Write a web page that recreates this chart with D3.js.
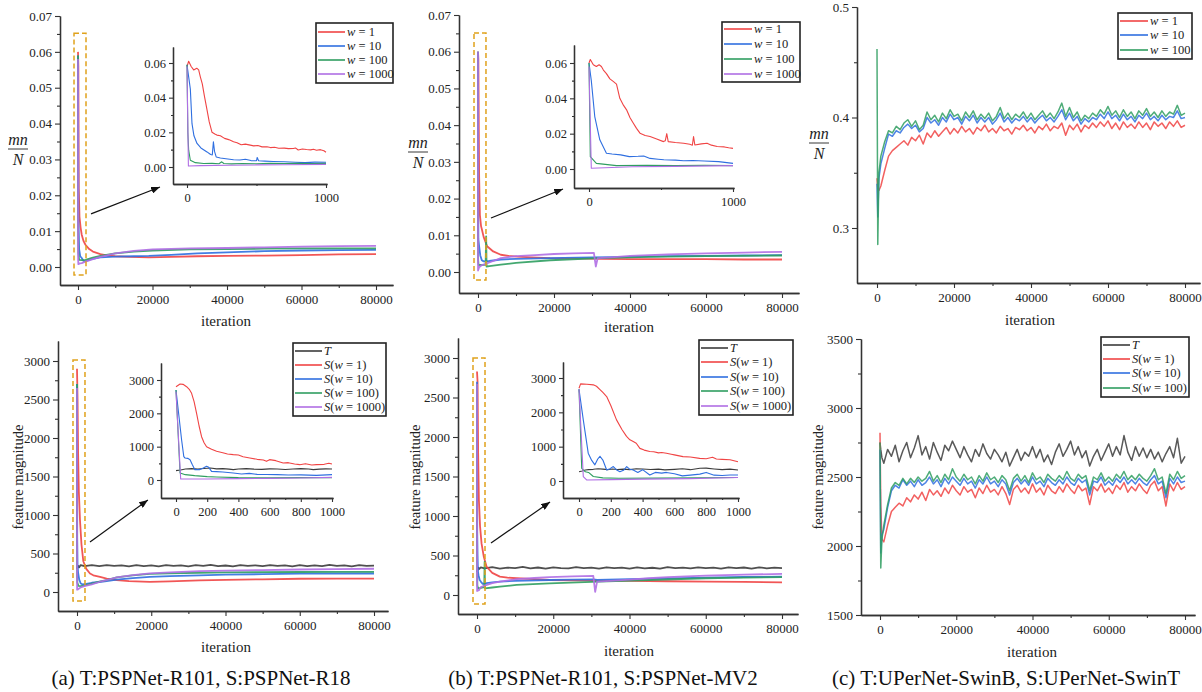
<!DOCTYPE html>
<html>
<head>
<meta charset="utf-8">
<script src="https://cdn.jsdelivr.net/npm/d3@7"></script>
<style>
  body { margin: 0; background: #fff; }
  svg text { font-family: "Liberation Serif", "Times New Roman", serif; }
</style>
</head>
<body>
<svg id="fig" width="1202" height="692"></svg>
<script>
// ---------------- data ----------------
// iterations on the x axis of panel (c)
const ITER_C = [0, 200, 500].concat(d3.range(1000, 80001, 1000))

// (a) top : mn/N, [iteration, value]
const TA_W1 = [[0,0.06],[100,0.056],[200,0.022],[400,0.014],[700,0.011],[1000,0.009],[1500,0.0072],[2000,0.0062],[3000,0.005],[4000,0.0043],[6000,0.0036],[8000,0.0032],[10000,0.003],[14000,0.0028],[19000,0.0027],[25000,0.0028],[32000,0.003],[40000,0.0031],[50000,0.0032],[60000,0.0033],[70000,0.0035],[80000,0.0036]]
const TA_W10 = [[0,0.059],[100,0.014],[300,0.005],[600,0.003],[1000,0.0025],[1500,0.0017],[2000,0.0016],[3000,0.002],[4000,0.0023],[6000,0.0027],[10000,0.0029],[15000,0.003],[19000,0.0031],[25000,0.0034],[32000,0.0038],[40000,0.0041],[50000,0.0044],[60000,0.0046],[70000,0.0047],[80000,0.0048]]
const TA_W100 = [[0,0.059],[50,0.01],[100,0.004],[300,0.002],[1000,0.0019],[2000,0.002],[4000,0.0026],[6000,0.0031],[10000,0.0038],[15000,0.0043],[20000,0.0046],[30000,0.0049],[40000,0.005],[50000,0.0051],[60000,0.0052],[70000,0.0052],[80000,0.0052]]
const TA_W1000 = [[0,0.058],[40,0.002],[100,0.0008],[500,0.001],[1000,0.0011],[2000,0.0015],[4000,0.0022],[6000,0.0028],[10000,0.0038],[15000,0.0045],[20000,0.0049],[30000,0.0052],[40000,0.0053],[50000,0.0055],[60000,0.0057],[70000,0.0058],[80000,0.0059]]
// (a) top inset, first 1000 iterations
const TA_IN_W1 = [[0,0.058],[12,0.061],[30,0.058],[48,0.056],[70,0.057],[84,0.056],[96,0.052],[110,0.048],[125,0.041],[144,0.033],[160,0.026],[180,0.02],[200,0.019],[215,0.0184],[240,0.018],[270,0.0165],[300,0.0158],[335,0.0146],[360,0.014],[390,0.0128],[420,0.0132],[455,0.0126],[480,0.0122],[510,0.0124],[540,0.0116],[575,0.0117],[600,0.0112],[630,0.0114],[660,0.0108],[700,0.0109],[730,0.0106],[765,0.0107],[780,0.011],[800,0.0098],[830,0.0104],[860,0.0101],[890,0.0099],[910,0.0102],[932,0.0097],[960,0.01],[985,0.0094],[1000,0.0085]]
const TA_IN_W10 = [[0,0.059],[12,0.052],[24,0.045],[36,0.025],[50,0.018],[72,0.0136],[100,0.011],[144,0.0087],[170,0.0072],[182,0.007],[190,0.0146],[198,0.009],[210,0.0058],[240,0.0052],[280,0.0048],[335,0.0042],[380,0.004],[420,0.0045],[460,0.0037],[500,0.0036],[505,0.0055],[515,0.0036],[560,0.0034],[620,0.0032],[700,0.003],[780,0.0027],[850,0.0025],[920,0.0028],[1000,0.0027]]
const TA_IN_W100 = [[0,0.059],[6,0.02],[12,0.0097],[24,0.0039],[60,0.0025],[120,0.002],[180,0.0021],[230,0.0019],[250,0.003],[265,0.002],[320,0.0018],[400,0.002],[500,0.0019],[600,0.0021],[700,0.002],[800,0.0021],[900,0.002],[1000,0.0021]]
const TA_IN_W1000 = [[0,0.058],[10,0.0006],[100,0.0008],[300,0.001],[500,0.0012],[700,0.0013],[1000,0.0015]]

// (b) top
const TB_W1 = [[0,0.06],[100,0.058],[300,0.026],[500,0.0155],[800,0.0125],[1000,0.0117],[1500,0.0095],[2400,0.007],[4000,0.0056],[6000,0.0047],[8000,0.0044],[10300,0.0042],[14000,0.004],[19000,0.0038],[25000,0.0037],[32000,0.0036],[40000,0.0035],[50000,0.0035],[60000,0.0035],[70000,0.0034],[80000,0.0034]]
const TB_W10 = [[0,0.06],[40,0.03],[100,0.009],[300,0.007],[600,0.0045],[1000,0.0032],[1500,0.0029],[3000,0.003],[6000,0.0034],[10000,0.0036],[19000,0.0038],[30000,0.004],[40000,0.0041],[50000,0.0043],[60000,0.0044],[70000,0.0045],[80000,0.0046]]
const TB_W100 = [[0,0.06],[10,0.007],[50,0.0032],[150,0.0019],[1000,0.0019],[2000,0.002],[2150,0.0097],[2250,0.0015],[3000,0.0016],[6000,0.002],[10000,0.0025],[19000,0.0032],[32000,0.0038],[45000,0.0041],[60000,0.0043],[80000,0.0045]]
const TB_W1000 = [[0,0.06],[15,0.0004],[300,0.0013],[1000,0.0019],[2000,0.0022],[4000,0.003],[6000,0.0038],[10000,0.0043],[15000,0.0046],[20000,0.0049],[25000,0.0051],[30500,0.0052],[31000,0.0015],[31500,0.0038],[35000,0.004],[40000,0.0044],[50000,0.0048],[60000,0.0051],[70000,0.0053],[80000,0.0055]]
const TB_IN_W1 = [[0,0.06],[9,0.062],[30,0.059],[51,0.058],[70,0.059],[86,0.058],[100,0.056],[121,0.054],[145,0.051],[168,0.0496],[191,0.048],[214,0.04],[240,0.036],[261,0.0335],[285,0.029],[307,0.026],[330,0.023],[354,0.0203],[390,0.019],[424,0.0184],[470,0.017],[517,0.0155],[530,0.016],[540,0.02],[550,0.0155],[600,0.015],[657,0.0146],[700,0.014],[718,0.0135],[726,0.0184],[735,0.0136],[780,0.0142],[820,0.0146],[850,0.0135],[890,0.0127],[940,0.0125],[970,0.012],[1000,0.0117]]
const TB_IN_W10 = [[0,0.06],[16,0.05],[40,0.0297],[75,0.0165],[121,0.0089],[160,0.0085],[220,0.008],[280,0.007],[341,0.0072],[380,0.0074],[424,0.006],[480,0.0055],[520,0.0052],[600,0.005],[657,0.0047],[720,0.0048],[800,0.0045],[900,0.0042],[1000,0.0032]]
const TB_IN_W100 = [[0,0.06],[9,0.007],[51,0.0032],[191,0.0019],[400,0.0021],[600,0.0019],[800,0.0021],[1000,0.0019]]
const TB_IN_W1000 = [[0,0.058],[16,0.0004],[300,0.0013],[600,0.0015],[1000,0.0019]]

// (c) top, one value per entry of ITER_C
const TC_W1 = [0.345, 0.336, 0.334,
  0.338, 0.352, 0.365, 0.37, 0.373, 0.376, 0.379, 0.375, 0.382, 0.379,
  0.384, 0.376, 0.386, 0.382, 0.388, 0.383, 0.387, 0.391, 0.385, 0.39,
  0.386, 0.392, 0.387, 0.39, 0.385, 0.391, 0.388, 0.393, 0.387, 0.39,
  0.386, 0.392, 0.388, 0.39, 0.385, 0.391, 0.389, 0.393, 0.388, 0.391,
  0.386, 0.392, 0.389, 0.394, 0.388, 0.392, 0.39, 0.395, 0.384, 0.393,
  0.389, 0.394, 0.387, 0.393, 0.39, 0.395, 0.391, 0.396, 0.392, 0.397,
  0.39, 0.395, 0.389, 0.396, 0.391, 0.394, 0.39, 0.396, 0.391, 0.395,
  0.389, 0.396, 0.392, 0.395, 0.39, 0.396, 0.392, 0.397, 0.391, 0.393]
const TC_W10 = [0.34, 0.31, 0.345,
  0.358, 0.372, 0.385, 0.383, 0.388, 0.386, 0.391, 0.394, 0.39, 0.393,
  0.387, 0.39, 0.4, 0.395, 0.398, 0.393, 0.4, 0.396, 0.403, 0.398,
  0.4, 0.394, 0.401, 0.397, 0.402, 0.395, 0.4, 0.396, 0.4, 0.394,
  0.398, 0.404, 0.396, 0.4, 0.395, 0.399, 0.397, 0.401, 0.396, 0.4,
  0.395, 0.399, 0.402, 0.397, 0.4, 0.396, 0.401, 0.407, 0.398, 0.404,
  0.397, 0.401, 0.394, 0.399, 0.396, 0.4, 0.398, 0.403, 0.399, 0.405,
  0.399, 0.402, 0.397, 0.403, 0.398, 0.401, 0.396, 0.402, 0.399, 0.404,
  0.398, 0.401, 0.397, 0.402, 0.398, 0.401, 0.4, 0.406, 0.399, 0.4]
const TC_W100 = [0.462, 0.285, 0.35,
  0.365, 0.378, 0.388, 0.386, 0.392, 0.389, 0.395, 0.398, 0.392, 0.397,
  0.389, 0.393, 0.405, 0.398, 0.402, 0.396, 0.404, 0.399, 0.407, 0.401,
  0.403, 0.397, 0.405, 0.4, 0.406, 0.398, 0.403, 0.399, 0.404, 0.397,
  0.401, 0.409, 0.399, 0.404, 0.398, 0.403, 0.4, 0.405, 0.399, 0.404,
  0.398, 0.402, 0.406, 0.4, 0.404, 0.399, 0.405, 0.413, 0.401, 0.409,
  0.4, 0.405, 0.397, 0.402, 0.399, 0.404, 0.401, 0.407, 0.403, 0.41,
  0.402, 0.406, 0.4, 0.407, 0.401, 0.405, 0.399, 0.406, 0.402, 0.408,
  0.401, 0.405, 0.4, 0.406, 0.401, 0.405, 0.403, 0.411, 0.402, 0.404]

// (a) bottom : feature magnitude
const BA_T = [[0,300],[300,340],[600,320],[1000,350],[2000,335],[4000,348],[6000,336],[8000,350],[10000,338],[12000,346],[14000,332],[16000,349],[18000,337],[20000,345],[22000,334],[24000,350],[26000,339],[28000,347],[30000,333],[32000,348],[34000,338],[36000,351],[38000,336],[40000,344],[42000,333],[44000,349],[46000,339],[48000,346],[50000,335],[52000,350],[54000,338],[56000,345],[58000,334],[60000,349],[62000,337],[64000,346],[66000,335],[68000,351],[70000,339],[72000,346],[74000,334],[76000,349],[78000,338],[80000,343]]
const BA_W1 = [[0,2900],[150,2500],[300,1800],[500,1300],[800,935],[1200,620],[1700,400],[2500,300],[3500,240],[4400,217],[6200,196],[8000,175],[10700,155],[14000,140],[19600,132],[25000,138],[33000,150],[40000,158],[50000,165],[60000,172],[70000,174],[80000,175]]
const BA_W10 = [[0,2700],[60,700],[150,350],[300,250],[600,160],[1000,110],[1500,100],[2500,105],[4000,120],[6000,130],[8000,140],[10700,160],[15000,180],[19600,196],[25000,205],[33000,217],[40000,225],[50000,232],[60000,238],[70000,240],[80000,240]]
const BA_W100 = [[0,2700],[30,200],[100,120],[400,80],[1000,75],[2000,85],[4000,110],[6000,135],[8000,155],[10700,190],[15000,215],[19600,235],[25000,243],[33000,250],[40000,255],[50000,258],[60000,260],[70000,261],[80000,262]]
const BA_W1000 = [[0,2650],[30,30],[300,35],[1000,60],[2000,75],[4000,100],[6000,130],[8000,155],[10700,190],[15000,220],[19600,242],[25000,255],[33000,270],[40000,278],[50000,285],[60000,292],[70000,298],[80000,302]]
const BA_IN_T = [[0,280],[30,300],[60,330],[100,340],[140,330],[180,345],[220,360],[260,335],[300,340],[340,325],[367,310],[400,330],[450,340],[500,325],[550,320],[600,335],[650,330],[700,315],[750,330],[800,340],[850,330],[880,310],[920,325],[960,335],[1000,330]]
const BA_IN_W1 = [[0,2800],[26,2880],[45,2870],[68,2800],[85,2720],[100,2600],[116,2350],[132,2000],[148,1620],[164,1300],[180,1120],[196,1000],[228,920],[260,860],[300,820],[330,780],[367,760],[400,750],[430,700],[473,660],[520,620],[560,600],[580,560],[600,610],[640,580],[687,510],[720,520],[760,480],[793,460],[830,490],[870,450],[900,460],[950,470],[980,500],[1000,480]]
const BA_IN_W10 = [[0,2700],[36,1200],[50,700],[58,660],[75,650],[90,610],[105,460],[121,310],[150,310],[175,360],[196,410],[210,380],[228,260],[260,250],[300,240],[367,210],[420,180],[470,200],[520,170],[580,165],[650,160],[720,150],[800,155],[900,140],[1000,160]]
const BA_IN_W100 = [[0,2700],[26,210],[60,160],[120,130],[200,100],[260,90],[400,70],[600,65],[800,70],[1000,70]]
const BA_IN_W1000 = [[0,2650],[30,30],[200,30],[400,40],[600,50],[800,60],[1000,80]]

// (b) bottom
const BB_T = [[0,290],[300,345],[600,330],[1000,350],[2000,338],[4000,352],[6000,335],[8000,347],[10000,340],[12000,355],[14000,337],[16000,348],[18000,333],[20000,350],[22000,341],[24000,336],[26000,352],[28000,339],[30000,346],[32000,334],[34000,351],[36000,340],[38000,347],[40000,335],[42000,350],[44000,338],[46000,345],[48000,333],[50000,352],[52000,340],[54000,347],[56000,336],[58000,350],[60000,339],[62000,346],[64000,334],[66000,351],[68000,340],[70000,348],[72000,335],[74000,350],[76000,338],[78000,346],[80000,340]]
const BB_W1 = [[0,2830],[150,2700],[300,1800],[500,1200],[800,869],[1200,650],[1800,480],[2500,360],[4000,280],[6000,233],[8000,220],[10400,212],[15000,200],[19000,190],[25000,186],[32000,182],[40000,178],[50000,174],[60000,170],[70000,165],[80000,161]]
const BB_W10 = [[0,2700],[60,800],[150,500],[250,300],[400,250],[700,190],[1000,170],[1500,140],[2500,150],[4000,160],[6000,170],[10000,180],[19000,190],[25000,195],[30500,199],[31500,190],[40000,200],[50000,210],[60000,220],[70000,228],[80000,233]]
const BB_W100 = [[0,2670],[20,350],[100,120],[300,80],[1000,90],[1900,100],[2000,420],[2100,85],[4000,95],[6000,106],[10400,127],[19000,148],[32000,170],[45000,190],[60000,212],[70000,220],[80000,225]]
const BB_W1000 = [[0,2670],[30,50],[500,60],[1000,100],[2000,120],[4000,150],[6000,170],[10400,200],[15000,215],[19000,225],[25000,235],[30500,242],[31000,40],[31500,170],[35000,180],[40000,195],[45000,212],[50000,225],[60000,245],[70000,258],[80000,267]]
const BB_IN_T = [[0,270],[20,290],[40,320],[60,330],[90,340],[120,355],[150,345],[180,330],[210,350],[240,335],[280,345],[320,330],[360,355],[400,350],[450,335],[500,345],[540,325],[600,340],[650,355],[700,330],[760,370],[800,375],[850,350],[900,330],[950,345],[1000,320]]
const BB_IN_W1 = [[0,2700],[10,2830],[50,2820],[90,2800],[110,2760],[132,2660],[150,2580],[174,2460],[200,2200],[236,1780],[270,1500],[299,1300],[320,1200],[341,1150],[360,1100],[383,950],[410,900],[445,860],[470,850],[500,820],[520,830],[550,810],[580,780],[600,760],[654,710],[700,700],[759,660],[800,650],[840,690],[864,640],[900,630],[950,620],[1000,560]]
const BB_IN_W10 = [[0,2670],[27,1780],[58,810],[80,600],[100,470],[118,640],[132,720],[150,610],[174,320],[195,360],[216,420],[235,330],[257,270],[280,310],[300,420],[320,340],[341,320],[370,250],[400,330],[445,175],[480,250],[520,230],[550,250],[600,210],[650,150],[700,170],[760,200],[800,250],[850,170],[900,160],[950,175],[1000,175]]
const BB_IN_W100 = [[0,2670],[17,370],[40,270],[60,250],[90,130],[150,90],[250,80],[500,85],[750,95],[1000,100]]
const BB_IN_W1000 = [[0,2670],[27,130],[48,30],[200,40],[400,55],[700,70],[1000,100]]

// (c) bottom, one value per entry of ITER_C
const BC_T = [2750, 2700, 2640,
  2600, 2700, 2650, 2730, 2610, 2690, 2750, 2640, 2710, 2800,
  2660, 2720, 2630, 2750, 2680, 2620, 2730, 2690, 2760, 2700,
  2640, 2720, 2660, 2610, 2700, 2650, 2740, 2670, 2630, 2700,
  2660, 2610, 2680, 2580, 2640, 2700, 2620, 2680, 2650, 2720,
  2640, 2700, 2610, 2660, 2590, 2680, 2740, 2650, 2700, 2760,
  2660, 2720, 2640, 2690, 2580, 2650, 2700, 2620, 2680, 2740,
  2650, 2720, 2660, 2800, 2680, 2620, 2720, 2650, 2710, 2640,
  2700, 2630, 2680, 2610, 2670, 2720, 2640, 2780, 2600, 2650]
const BC_W1 = [2820, 2300, 2050,
  2030, 2150, 2250, 2280, 2310, 2290, 2350, 2320, 2370, 2340,
  2390, 2330, 2410, 2370, 2400, 2360, 2420, 2380, 2440, 2400,
  2370, 2430, 2390, 2410, 2350, 2420, 2380, 2440, 2390, 2410,
  2370, 2430, 2380, 2300, 2410, 2440, 2390, 2420, 2380, 2450,
  2390, 2420, 2370, 2440, 2400, 2380, 2430, 2390, 2450, 2410,
  2380, 2440, 2400, 2420, 2300, 2430, 2400, 2450, 2390, 2420,
  2380, 2440, 2410, 2460, 2390, 2430, 2400, 2450, 2410, 2380,
  2440, 2470, 2400, 2430, 2290, 2450, 2400, 2460, 2410, 2430]
const BC_W10 = [2700, 1950, 2080,
  2120, 2280, 2400, 2440, 2420, 2480, 2440, 2470, 2430, 2480,
  2440, 2460, 2500, 2450, 2480, 2430, 2490, 2450, 2500, 2470,
  2440, 2490, 2450, 2470, 2420, 2480, 2450, 2500, 2450, 2470,
  2430, 2480, 2450, 2370, 2460, 2490, 2450, 2480, 2440, 2500,
  2450, 2470, 2430, 2490, 2460, 2440, 2480, 2450, 2500, 2460,
  2440, 2490, 2460, 2480, 2370, 2470, 2460, 2500, 2440, 2470,
  2440, 2490, 2460, 2500, 2450, 2480, 2450, 2490, 2460, 2440,
  2480, 2510, 2450, 2470, 2350, 2490, 2450, 2500, 2460, 2470]
const BC_W100 = [2750, 1840, 2050,
  2150, 2300, 2420, 2460, 2440, 2490, 2450, 2490, 2460, 2500,
  2470, 2490, 2540, 2470, 2510, 2460, 2520, 2480, 2560, 2500,
  2470, 2520, 2480, 2500, 2450, 2510, 2470, 2530, 2480, 2500,
  2460, 2510, 2480, 2400, 2490, 2520, 2470, 2510, 2460, 2530,
  2480, 2500, 2460, 2520, 2490, 2470, 2510, 2480, 2540, 2490,
  2470, 2520, 2490, 2510, 2400, 2500, 2480, 2530, 2470, 2500,
  2470, 2520, 2490, 2540, 2480, 2510, 2480, 2520, 2490, 2470,
  2510, 2560, 2480, 2500, 2380, 2520, 2480, 2540, 2490, 2510]

// zoom box and arrow of the insets, in data units
const ZOOM_TOP_A = { x: [-1070, 2150], y: [-0.0022, 0.0652], from: [3490, 0.0148], to: [22000, 0.0223] }
const ZOOM_TOP_B = { x: [-1050, 2100], y: [-0.0022, 0.0651], from: [3420, 0.0147], to: [22370, 0.0226] }
const ZOOM_BOT_A = { x: [-1080, 2150], y: [-117, 3013], from: [3500, 649], to: [19100, 1195] }
const ZOOM_BOT_B = { x: [-1050, 2100], y: [-114, 3000], from: [3670, 658], to: [19150, 1177] }

const X_MAJOR = [0, 20000, 40000, 60000, 80000]
const X_MINOR = [10000, 30000, 50000, 70000]
const CAPTIONS = ["(a) T:PSPNet-R101, S:PSPNet-R18", "(b) T:PSPNet-R101, S:PSPNet-MV2", "(c) T:UPerNet-SwinB, S:UPerNet-SwinT"]

const COL = { w1: "#f04444", w10: "#2f6fe0", w100: "#2f9e60", w1000: "#b06ee4", T: "#3c3c3c" }

// ---------------- drawing ----------------
const svg = d3.select("#fig")
const FONT = '"Liberation Serif", "Times New Roman", serif'

svg.append("defs").append("marker")
  .attr("id", "arrow")
  .attr("viewBox", "0 -4 10 8")
  .attr("refX", 10)
  .attr("refY", 0)
  .attr("markerUnits", "userSpaceOnUse")
  .attr("markerWidth", 9)
  .attr("markerHeight", 7)
  .attr("orient", "auto")
  .append("path")
  .attr("d", "M0,-4L10,0L0,4Z")
  .attr("fill", "#111")

const cSeries = vals => ITER_C.map((it, i) => [it, vals[i]])
const wLabel = n => [["w", true], [" = " + n, false]]
const sLabel = n => [["S", true], ["(", false], ["w", true], [" = " + n + ")", false]]

function styleAxis(sel, size) {
  // d3 puts its own font attrs on the group it is called on
  sel.selectAll("g").attr("font-family", FONT).attr("font-size", size)
  sel.selectAll("path.domain").attr("stroke", "#333").attr("stroke-width", 1.3)
  sel.selectAll(".tick line").attr("stroke", "#333").attr("stroke-width", 1.1)
  sel.selectAll(".tick text").attr("fill", "#222")
}

// xd/xr and yd/yr: two values with their pixel place, left/right/top/bottom: ends of the axis lines
function axes(g, o) {
  const x = d3.scaleLinear().domain(o.xd).range(o.xr)
  const y = d3.scaleLinear().domain(o.yd).range(o.yr)
  const xa = x.copy().domain([x.invert(o.left), x.invert(o.right)]).range([o.left, o.right])
  const ya = y.copy().domain([y.invert(o.bottom), y.invert(o.top)]).range([o.bottom, o.top])
  const big = o.inset ? 4 : 5, small = o.inset ? 2 : 3
  const fs = o.inset ? 12.5 : 13

  const bx = g.append("g").attr("transform", `translate(0,${o.bottom})`)
  bx.append("g").call(d3.axisBottom(xa).tickValues(o.xMinor).tickSize(small).tickSizeOuter(0).tickFormat(""))
  bx.append("g").call(d3.axisBottom(xa).tickValues(o.xMajor).tickSize(big).tickSizeOuter(0).tickPadding(5).tickFormat(d3.format("d")))
  styleAxis(bx, fs)

  const ly = g.append("g").attr("transform", `translate(${o.left},0)`)
  ly.append("g").call(d3.axisLeft(ya).tickValues(o.yMinor).tickSize(small).tickSizeOuter(0).tickFormat(""))
  ly.append("g").call(d3.axisLeft(ya).tickValues(o.yMajor).tickSize(big).tickSizeOuter(0).tickPadding(3).tickFormat(d3.format(o.yFmt)))
  styleAxis(ly, fs)
  return { x, y }
}

function lines(g, sc, list, width, opacity) {
  const line = d3.line().x(d => sc.x(d[0])).y(d => sc.y(d[1]))
  list.forEach(s => {
    g.append("path")
      .attr("d", line(s[0]))
      .attr("fill", "none")
      .attr("stroke", s[1])
      .attr("stroke-width", width)
      .attr("stroke-opacity", opacity)
      .attr("stroke-linejoin", "round")
  })
}

function legend(g, o, items) {
  g.append("rect")
    .attr("x", o.x0).attr("y", o.y0)
    .attr("width", o.x1 - o.x0).attr("height", o.y1 - o.y0)
    .attr("fill", "#fff").attr("stroke", "#222").attr("stroke-width", 1.6)
  items.forEach((it, i) => {
    const yy = o.rows[i]
    g.append("line")
      .attr("x1", o.x0 + 2).attr("x2", o.lx).attr("y1", yy).attr("y2", yy)
      .attr("stroke", it[0]).attr("stroke-width", 1.6)
    const t = g.append("text")
      .attr("x", o.lx + 2).attr("y", yy + 4)
      .attr("font-size", 12.5).attr("fill", "#222")
    it[1].forEach(p => {
      t.append("tspan").text(p[0]).attr("font-style", p[1] ? "italic" : "normal")
    })
  })
}

function zoomMark(g, sc, z) {
  const x0 = sc.x(z.x[0]), x1 = sc.x(z.x[1])
  const y0 = sc.y(z.y[1]), y1 = sc.y(z.y[0])
  g.append("rect")
    .attr("x", x0).attr("y", y0).attr("width", x1 - x0).attr("height", y1 - y0)
    .attr("fill", "none").attr("stroke", "#e0a21c").attr("stroke-width", 1.5)
    .attr("stroke-dasharray", "5,3")
  g.append("line")
    .attr("x1", sc.x(z.from[0])).attr("y1", sc.y(z.from[1]))
    .attr("x2", sc.x(z.to[0])).attr("y2", sc.y(z.to[1]))
    .attr("stroke", "#111").attr("stroke-width", 1.2)
    .attr("marker-end", "url(#arrow)")
}

function fracLabel(cx, barY) {
  const g = svg.append("g").attr("font-style", "italic").attr("font-size", 16).attr("fill", "#222")
  g.append("text").attr("x", cx).attr("y", barY - 4).attr("text-anchor", "middle").text("mn")
  g.append("line").attr("x1", cx - 10).attr("x2", cx + 10).attr("y1", barY).attr("y2", barY)
    .attr("stroke", "#222").attr("stroke-width", 0.9)
  g.append("text").attr("x", cx).attr("y", barY + 16).attr("text-anchor", "middle").text("N")
}

function rotLabel(x, y, txt) {
  svg.append("text")
    .attr("transform", `translate(${x},${y}) rotate(-90)`)
    .attr("text-anchor", "middle").attr("font-size", 14.5).attr("fill", "#222")
    .text(txt)
}

function xLabel(x, y) {
  svg.append("text").attr("x", x).attr("y", y).attr("text-anchor", "middle")
    .attr("font-size", 15).attr("fill", "#222").text("iteration")
}

const Y_MN = { yMajor: [0, 0.01, 0.02, 0.03, 0.04, 0.05, 0.06, 0.07], yMinor: [0.005, 0.015, 0.025, 0.035, 0.045, 0.055, 0.065], yFmt: ".2f" }
const Y_FM = { yMajor: [0, 500, 1000, 1500, 2000, 2500, 3000], yMinor: [250, 750, 1250, 1750, 2250, 2750], yFmt: "d" }
const IN_MN = { xMajor: [0, 1000], xMinor: [500], yMajor: [0, 0.02, 0.04, 0.06], yMinor: [0.01, 0.03, 0.05], yFmt: ".2f", inset: true }
const IN_FM = { xMajor: [0, 200, 400, 600, 800, 1000], xMinor: [100, 300, 500, 700, 900], yMajor: [0, 1000, 2000, 3000], yMinor: [500, 1500, 2500], yFmt: "d", inset: true }

// ----- (a) top -----
{
  const g = svg.append("g")
  const sc = axes(g, Object.assign({ xd: [0, 80000], xr: [78, 376], yd: [0, 0.07], yr: [267, 16], left: 60, right: 393, top: 16, bottom: 285, xMajor: X_MAJOR, xMinor: X_MINOR }, Y_MN))
  lines(g, sc, [[TA_W1, COL.w1], [TA_W10, COL.w10], [TA_W100, COL.w100], [TA_W1000, COL.w1000]], 1.8, 0.9)
  zoomMark(g, sc, ZOOM_TOP_A)
  const si = axes(g, Object.assign({ xd: [0, 1000], xr: [187, 326], yd: [0, 0.06], yr: [167, 63], left: 173, right: 327, top: 47, bottom: 184 }, IN_MN))
  lines(g, si, [[TA_IN_W1, COL.w1], [TA_IN_W10, COL.w10], [TA_IN_W100, COL.w100], [TA_IN_W1000, COL.w1000]], 1.1, 1)
  legend(g, { x0: 316, x1: 393, y0: 23, y1: 83, lx: 345, rows: [32, 46, 60, 74] },
    [[COL.w1, wLabel(1)], [COL.w10, wLabel(10)], [COL.w100, wLabel(100)], [COL.w1000, wLabel(1000)]])
  fracLabel(18, 149)
  xLabel(226, 326)
}

// ----- (b) top -----
{
  const g = svg.append("g")
  const sc = axes(g, Object.assign({ xd: [0, 80000], xr: [478, 782], yd: [0, 0.07], yr: [272, 15], left: 459, right: 799, top: 15, bottom: 293, xMajor: X_MAJOR, xMinor: X_MINOR }, Y_MN))
  lines(g, sc, [[TB_W1, COL.w1], [TB_W10, COL.w10], [TB_W100, COL.w100], [TB_W1000, COL.w1000]], 1.8, 0.9)
  zoomMark(g, sc, ZOOM_TOP_B)
  const si = axes(g, Object.assign({ xd: [0, 1000], xr: [589, 733], yd: [0, 0.06], yr: [169, 63], left: 574, right: 734, top: 45, bottom: 188 }, IN_MN))
  lines(g, si, [[TB_IN_W1, COL.w1], [TB_IN_W10, COL.w10], [TB_IN_W100, COL.w100], [TB_IN_W1000, COL.w1000]], 1.1, 1)
  legend(g, { x0: 722, x1: 800, y0: 22, y1: 82, lx: 752, rows: [29, 44, 59, 74] },
    [[COL.w1, wLabel(1)], [COL.w10, wLabel(10)], [COL.w100, wLabel(100)], [COL.w1000, wLabel(1000)]])
  fracLabel(418, 152)
  xLabel(629, 332)
}

// ----- (c) top -----
{
  const g = svg.append("g")
  const sc = axes(g, { xd: [0, 80000], xr: [877, 1185], yd: [0.3, 0.5], yr: [228, 7], left: 857, right: 1200, top: 7, bottom: 283, xMajor: X_MAJOR, xMinor: X_MINOR, yMajor: [0.3, 0.4, 0.5], yMinor: [0.35, 0.45], yFmt: ".1f" })
  lines(g, sc, [[cSeries(TC_W1), COL.w1], [cSeries(TC_W10), COL.w10], [cSeries(TC_W100), COL.w100]], 1.5, 0.85)
  legend(g, { x0: 1118, x1: 1192, y0: 13, y1: 59, lx: 1148, rows: [21, 35, 50] },
    [[COL.w1, wLabel(1)], [COL.w10, wLabel(10)], [COL.w100, wLabel(100)]])
  fracLabel(819, 143)
  xLabel(1030, 325)
}

// ----- (a) bottom -----
{
  const g = svg.append("g")
  const sc = axes(g, Object.assign({ xd: [0, 80000], xr: [77, 374], yd: [0, 3000], yr: [592, 361], left: 58, right: 388, top: 341, bottom: 611, xMajor: X_MAJOR, xMinor: X_MINOR }, Y_FM))
  lines(g, sc, [[BA_T, COL.T], [BA_W1, COL.w1], [BA_W10, COL.w10], [BA_W100, COL.w100], [BA_W1000, COL.w1000]], 1.8, 0.9)
  zoomMark(g, sc, ZOOM_BOT_A)
  const si = axes(g, Object.assign({ xd: [0, 1000], xr: [176, 332], yd: [0, 3000], yr: [480, 380], left: 161, right: 333, top: 363, bottom: 498 }, IN_FM))
  lines(g, si, [[BA_IN_T, COL.T], [BA_IN_W1, COL.w1], [BA_IN_W10, COL.w10], [BA_IN_W100, COL.w100], [BA_IN_W1000, COL.w1000]], 1.1, 1)
  legend(g, { x0: 293, x1: 386, y0: 343, y1: 416, lx: 322, rows: [351, 365, 379, 393, 407] },
    [[COL.T, [["T", true]]], [COL.w1, sLabel(1)], [COL.w10, sLabel(10)], [COL.w100, sLabel(100)], [COL.w1000, sLabel(1000)]])
  rotLabel(23, 477, "feature magnitude")
  xLabel(226, 652)
}

// ----- (b) bottom -----
{
  const g = svg.append("g")
  const sc = axes(g, Object.assign({ xd: [0, 80000], xr: [477, 782], yd: [0, 3000], yr: [595, 358], left: 458, right: 798, top: 338, bottom: 614, xMajor: X_MAJOR, xMinor: X_MINOR }, Y_FM))
  lines(g, sc, [[BB_T, COL.T], [BB_W1, COL.w1], [BB_W10, COL.w10], [BB_W100, COL.w100], [BB_W1000, COL.w1000]], 1.8, 0.9)
  zoomMark(g, sc, ZOOM_BOT_B)
  const si = axes(g, Object.assign({ xd: [0, 1000], xr: [579, 738], yd: [0, 3000], yr: [481, 378], left: 563, right: 739, top: 362, bottom: 498 }, IN_FM))
  lines(g, si, [[BB_IN_T, COL.T], [BB_IN_W1, COL.w1], [BB_IN_W10, COL.w10], [BB_IN_W100, COL.w100], [BB_IN_W1000, COL.w1000]], 1.1, 1)
  legend(g, { x0: 699, x1: 793, y0: 340, y1: 415, lx: 728, rows: [348, 362, 377, 391, 406] },
    [[COL.T, [["T", true]]], [COL.w1, sLabel(1)], [COL.w10, sLabel(10)], [COL.w100, sLabel(100)], [COL.w1000, sLabel(1000)]])
  rotLabel(420, 477, "feature magnitude")
  xLabel(629, 656)
}

// ----- (c) bottom -----
{
  const g = svg.append("g")
  const sc = axes(g, { xd: [0, 80000], xr: [880, 1185], yd: [1500, 3000], yr: [615, 408], left: 861, right: 1195, top: 339, bottom: 615, xMajor: X_MAJOR, xMinor: X_MINOR, yMajor: [1500, 2000, 2500, 3000, 3500], yMinor: [1750, 2250, 2750, 3250], yFmt: "d" })
  lines(g, sc, [[cSeries(BC_T), COL.T], [cSeries(BC_W1), COL.w1], [cSeries(BC_W10), COL.w10], [cSeries(BC_W100), COL.w100]], 1.5, 0.85)
  legend(g, { x0: 1101, x1: 1189, y0: 337, y1: 397, lx: 1130, rows: [345, 359, 373, 388] },
    [[COL.T, [["T", true]]], [COL.w1, sLabel(1)], [COL.w10, sLabel(10)], [COL.w100, sLabel(100)]])
  rotLabel(823, 477, "feature magnitude")
  xLabel(1032, 657)
}

// captions
const CAP_X = [201, 603, 1006]
CAPTIONS.forEach((c, i) => {
  svg.append("text").attr("x", CAP_X[i]).attr("y", 685).attr("text-anchor", "middle")
    .attr("font-size", 21).attr("fill", "#111").text(c)
})
</script>
</body>
</html>
